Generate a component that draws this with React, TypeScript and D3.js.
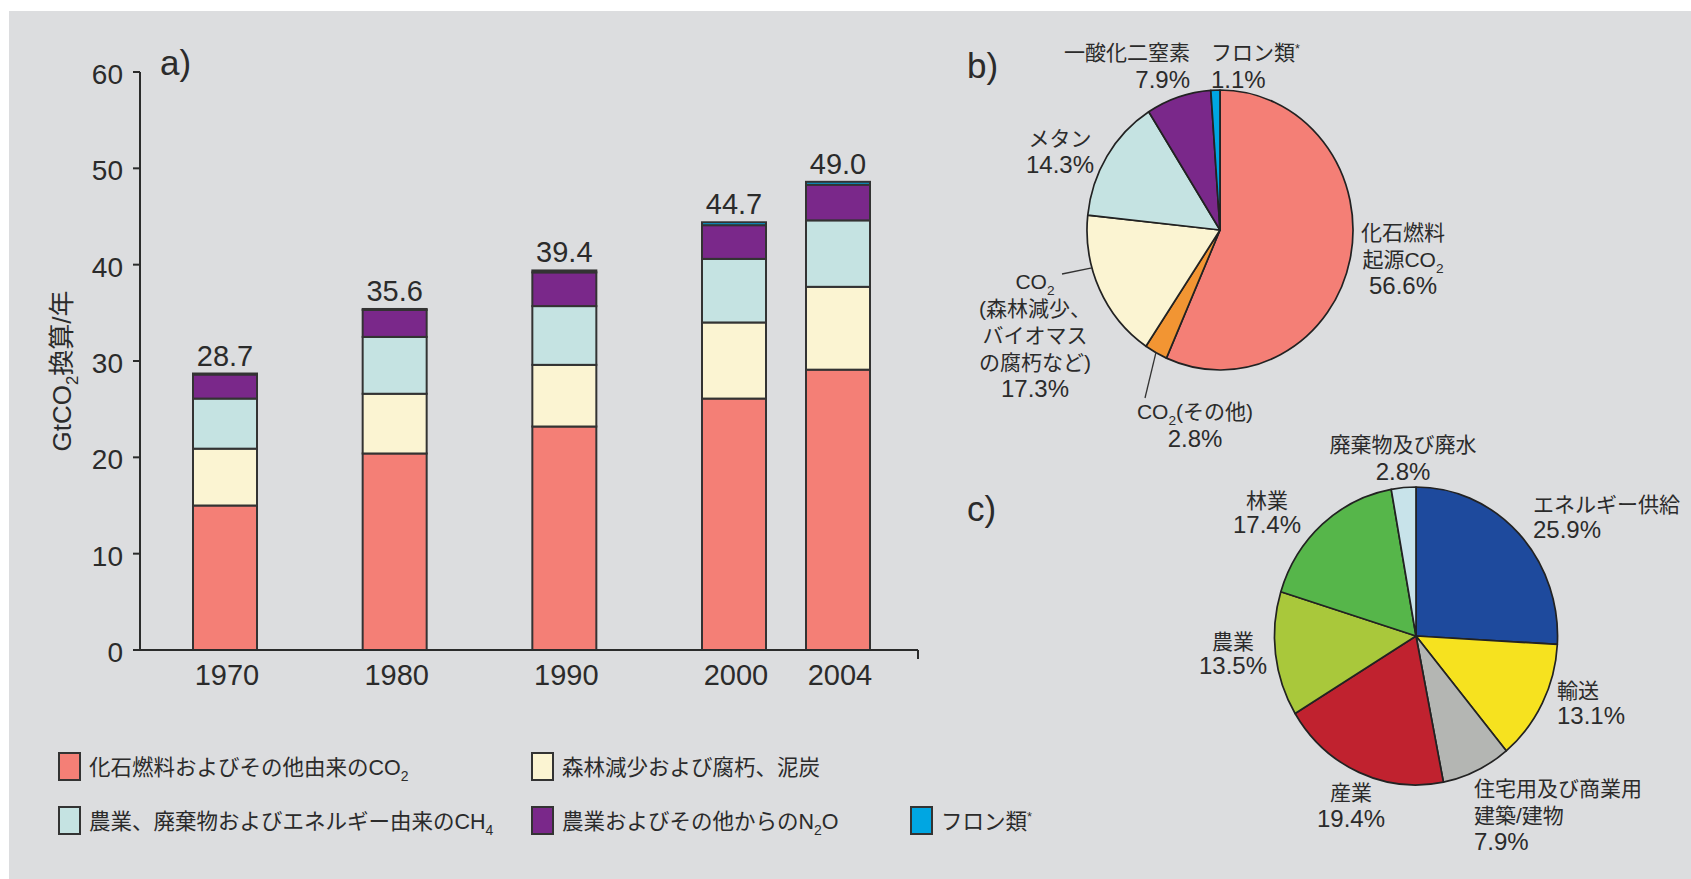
import React from "react";
import * as d3 from "d3";

// a) emissions by gas, GtCO2-eq per year
const YEARS = [1970, 1980, 1990, 2000, 2004];
const FOSSIL_CO2 = [15.0, 20.4, 23.2, 26.1, 29.1];
const DEFOREST_CO2 = [5.9, 6.2, 6.4, 7.9, 8.6];
const CH4 = [5.2, 5.9, 6.1, 6.6, 6.9];
const N2O = [2.5, 2.8, 3.5, 3.5, 3.7];
const FGAS = [0.1, 0.1, 0.2, 0.3, 0.3];
const TOTAL_LABELS = ["28.7", "35.6", "39.4", "44.7", "49.0"];
const Y_TICKS = [0, 10, 20, 30, 40, 50, 60];

const SERIES_KEYS = ["fossil", "deforest", "ch4", "n2o", "fgas"];
const SERIES_COLORS = ["#f47f76", "#fbf4d2", "#c5e3e2", "#7a288a", "#00a6e2"];
const LEGEND_LABELS = [
  "化石燃料およびその他由来のCO_{2}",
  "森林減少および腐朽、泥炭",
  "農業、廃棄物およびエネルギー由来のCH_{4}",
  "農業およびその他からのN_{2}O",
  "フロン類^{*}",
];

// b) share by gas in 2004
const GAS_SHARE = [56.6, 2.8, 17.3, 14.3, 7.9, 1.1];
const GAS_COLORS = ["#f47f76", "#f29533", "#fbf4d2", "#c5e3e2", "#7a288a", "#00a6e2"];
const GAS_LABELS = [
  ["化石燃料", "起源CO_{2}", "56.6%"],
  ["CO_{2}(その他)", "2.8%"],
  ["CO_{2}", "(森林減少、", "バイオマス", "の腐朽など)", "17.3%"],
  ["メタン", "14.3%"],
  ["一酸化二窒素", "7.9%"],
  ["フロン類^{*}", "1.1%"],
];

// c) share by sector in 2004
const SECTOR_SHARE = [25.9, 13.1, 7.9, 19.4, 13.5, 17.4, 2.8];
const SECTOR_COLORS = ["#1e4a9d", "#f6e21f", "#b4b6b3", "#c0222f", "#a9c83b", "#56b64a", "#c8e3ea"];
const SECTOR_LABELS = [
  ["エネルギー供給", "25.9%"],
  ["輸送", "13.1%"],
  ["住宅用及び商業用", "建築/建物", "7.9%"],
  ["産業", "19.4%"],
  ["農業", "13.5%"],
  ["林業", "17.4%"],
  ["廃棄物及び廃水", "2.8%"],
];

const W = 1691, H = 879;
const FONT = "'Liberation Sans', 'Noto Sans CJK JP', sans-serif";
const INK = "#2b2b2b";

// label placement around each pie (relative to pie centre): dx, first baseline, anchor, line height
const GAS_LABEL_POS = [
  { dx: 183, y: 10, anchor: "middle", lh: 27 },
  { dx: -25, y: 189, anchor: "middle", lh: 28 },
  { dx: -185, y: 59, anchor: "middle", lh: 27 },
  { dx: -160, y: -84, anchor: "middle", lh: 27 },
  { dx: -30, y: -170, anchor: "end", lh: 28 },
  { dx: -9, y: -170, anchor: "start", lh: 28 },
];
const SECTOR_LABEL_POS = [
  { dx: 117, y: -124, anchor: "start", lh: 26 },
  { dx: 141, y: 62, anchor: "start", lh: 26 },
  { dx: 58, y: 160, anchor: "start", lh: 27 },
  { dx: -65, y: 164, anchor: "middle", lh: 27 },
  { dx: -183, y: 13, anchor: "middle", lh: 25 },
  { dx: -149, y: -128, anchor: "middle", lh: 25 },
  { dx: -13, y: -184, anchor: "middle", lh: 28 },
];

// "CO_{2}" -> subscript, "^{*}" -> superscript
function rich(str: string, fs: number) {
  const parts = str.split(/(_\{[^}]*\}|\^\{[^}]*\})/).filter((p) => p !== "");
  let shift = 0;
  return parts.map((p, i) => {
    let target = 0;
    let body = p;
    let size = fs;
    if (p.startsWith("_{")) { target = fs * 0.28; body = p.slice(2, -1); size = fs * 0.65; }
    else if (p.startsWith("^{")) { target = -fs * 0.35; body = p.slice(2, -1); size = fs * 0.6; }
    const dy = target - shift;
    shift = target;
    return (
      <tspan key={i} dy={dy} fontSize={size}>
        {body}
      </tspan>
    );
  });
}

function lineSize(line: string) {
  return /^[\d.%]+$/.test(line) ? 24 : 21;
}

function PieLabels({ cx, cy, labels, pos }: any) {
  return (
    <g>
      {labels.map((lines: string[], i: number) => {
        const p = pos[i];
        return (
          <text key={i} textAnchor={p.anchor} fill={INK} fontFamily={FONT}>
            {lines.map((ln, j) => (
              <tspan key={j} x={cx + p.dx} y={cy + p.y + j * p.lh} fontSize={lineSize(ln)}>
                {rich(ln, lineSize(ln))}
              </tspan>
            ))}
          </text>
        );
      })}
    </g>
  );
}

function Pie({ cx, cy, r, sx, shares, colors }: any) {
  const pie = d3.pie<number>().sort(null).value((d) => d)(shares);
  const arc = d3.arc<d3.PieArcDatum<number>>().innerRadius(0).outerRadius(r);
  return (
    <g transform={`translate(${cx},${cy}) scale(${sx},1)`}>
      {pie.map((a, i) => (
        <path key={i} d={arc(a) || ""} fill={colors[i]} stroke="#222" strokeWidth={1.7}
          vectorEffect="non-scaling-stroke" strokeLinejoin="round" />
      ))}
    </g>
  );
}

export default function App() {
  // ---- a) stacked bars
  const rows = YEARS.map((y, i) => ({
    year: y, fossil: FOSSIL_CO2[i], deforest: DEFOREST_CO2[i], ch4: CH4[i], n2o: N2O[i], fgas: FGAS[i],
  }));
  const stack = d3.stack<any>().keys(SERIES_KEYS)(rows);
  const x = d3.scaleLinear().domain([1970, 2000, 2004]).range([225, 734, 838]);
  const y = d3.scaleLinear().domain([0, 60]).range([650, 72]);
  const barW = 64;
  const axisX0 = 140, axisX1 = 918;

  // ---- b) & c) pies
  const pb = { cx: 1220, cy: 230, r: 140, sx: 0.95 };
  const pc = { cx: 1416, cy: 636, r: 149, sx: 0.95 };
  const gasPie = d3.pie<number>().sort(null).value((d) => d)(GAS_SHARE);
  const edge = (a: number) => [pb.cx + pb.sx * pb.r * Math.sin(a), pb.cy - pb.r * Math.cos(a)];
  const deforest = gasPie[2];
  const dfEdge = edge(deforest.startAngle + 0.65 * (deforest.endAngle - deforest.startAngle));
  const other = gasPie[1];
  const otEdge = edge((other.startAngle + other.endAngle) / 2);

  const legendCols = [59, 532, 911];
  const legendRows = [753, 807];
  const legendSlots = [[0, 0], [1, 0], [0, 1], [1, 1], [2, 1]];

  return (
    <svg width={W} height={H} style={{ position: "absolute", left: 0, top: 0, background: "#fff" }}
      fontFamily={FONT}>
      <rect x={9} y={11} width={W - 9} height={H - 11} fill="#dcdddf" />

      {/* a) */}
      <text x={160} y={75} fontSize={35} fill={INK}>a)</text>
      {stack.map((layer, li) => (
        <g key={li}>
          {layer.map((d, i) => (
            <rect key={i} x={x(YEARS[i]) - barW / 2} y={y(d[1])} width={barW}
              height={y(d[0]) - y(d[1])} fill={SERIES_COLORS[li]} stroke="#333" strokeWidth={2} />
          ))}
        </g>
      ))}
      {YEARS.map((yr, i) => (
        <text key={yr} x={x(yr)} y={y(stack[stack.length - 1][i][1]) - 8} textAnchor="middle"
          fontSize={29} fill={INK}>{TOTAL_LABELS[i]}</text>
      ))}
      <line x1={axisX0} x2={axisX0} y1={y(60)} y2={y(0)} stroke={INK} strokeWidth={2} />
      <line x1={axisX0} x2={axisX1} y1={y(0)} y2={y(0)} stroke={INK} strokeWidth={2} />
      <line x1={axisX1} x2={axisX1} y1={y(0)} y2={y(0) + 9} stroke={INK} strokeWidth={2} />
      {Y_TICKS.map((t) => (
        <g key={t}>
          <line x1={axisX0 - 7} x2={axisX0} y1={y(t)} y2={y(t)} stroke={INK} strokeWidth={2} />
          <text x={123} y={y(t) + 12} textAnchor="end" fontSize={28} fill={INK}>{t}</text>
        </g>
      ))}
      {YEARS.map((yr) => (
        <text key={yr} x={x(yr) + 2} y={685} textAnchor="middle" fontSize={29} fill={INK}>{yr}</text>
      ))}
      <text transform={`translate(71,371) rotate(-90)`} textAnchor="middle" fontSize={26} fill={INK}>
        {rich("GtCO_{2}換算/年", 26)}
      </text>

      {/* legend */}
      {LEGEND_LABELS.map((lab, i) => {
        const [c, r] = legendSlots[i];
        const lx = legendCols[c], ly = legendRows[r];
        return (
          <g key={i}>
            <rect x={lx} y={ly} width={21} height={27} fill={SERIES_COLORS[i]} stroke="#333" strokeWidth={2} />
            <text x={lx + 30} y={ly + 22} fontSize={21.5} fill={INK}>{rich(lab, 21.5)}</text>
          </g>
        );
      })}

      {/* b) */}
      <text x={967} y={78} fontSize={35} fill={INK}>b)</text>
      <Pie {...pb} shares={GAS_SHARE} colors={GAS_COLORS} />
      <line x1={1062} y1={274} x2={dfEdge[0]} y2={dfEdge[1]} stroke="#333" strokeWidth={1.3} />
      <line x1={otEdge[0]} y1={otEdge[1]} x2={1145} y2={398} stroke="#333" strokeWidth={1.3} />
      <PieLabels cx={pb.cx} cy={pb.cy} labels={GAS_LABELS} pos={GAS_LABEL_POS} />

      {/* c) */}
      <text x={967} y={521} fontSize={35} fill={INK}>c)</text>
      <Pie {...pc} shares={SECTOR_SHARE} colors={SECTOR_COLORS} />
      <PieLabels cx={pc.cx} cy={pc.cy} labels={SECTOR_LABELS} pos={SECTOR_LABEL_POS} />
    </svg>
  );
}
